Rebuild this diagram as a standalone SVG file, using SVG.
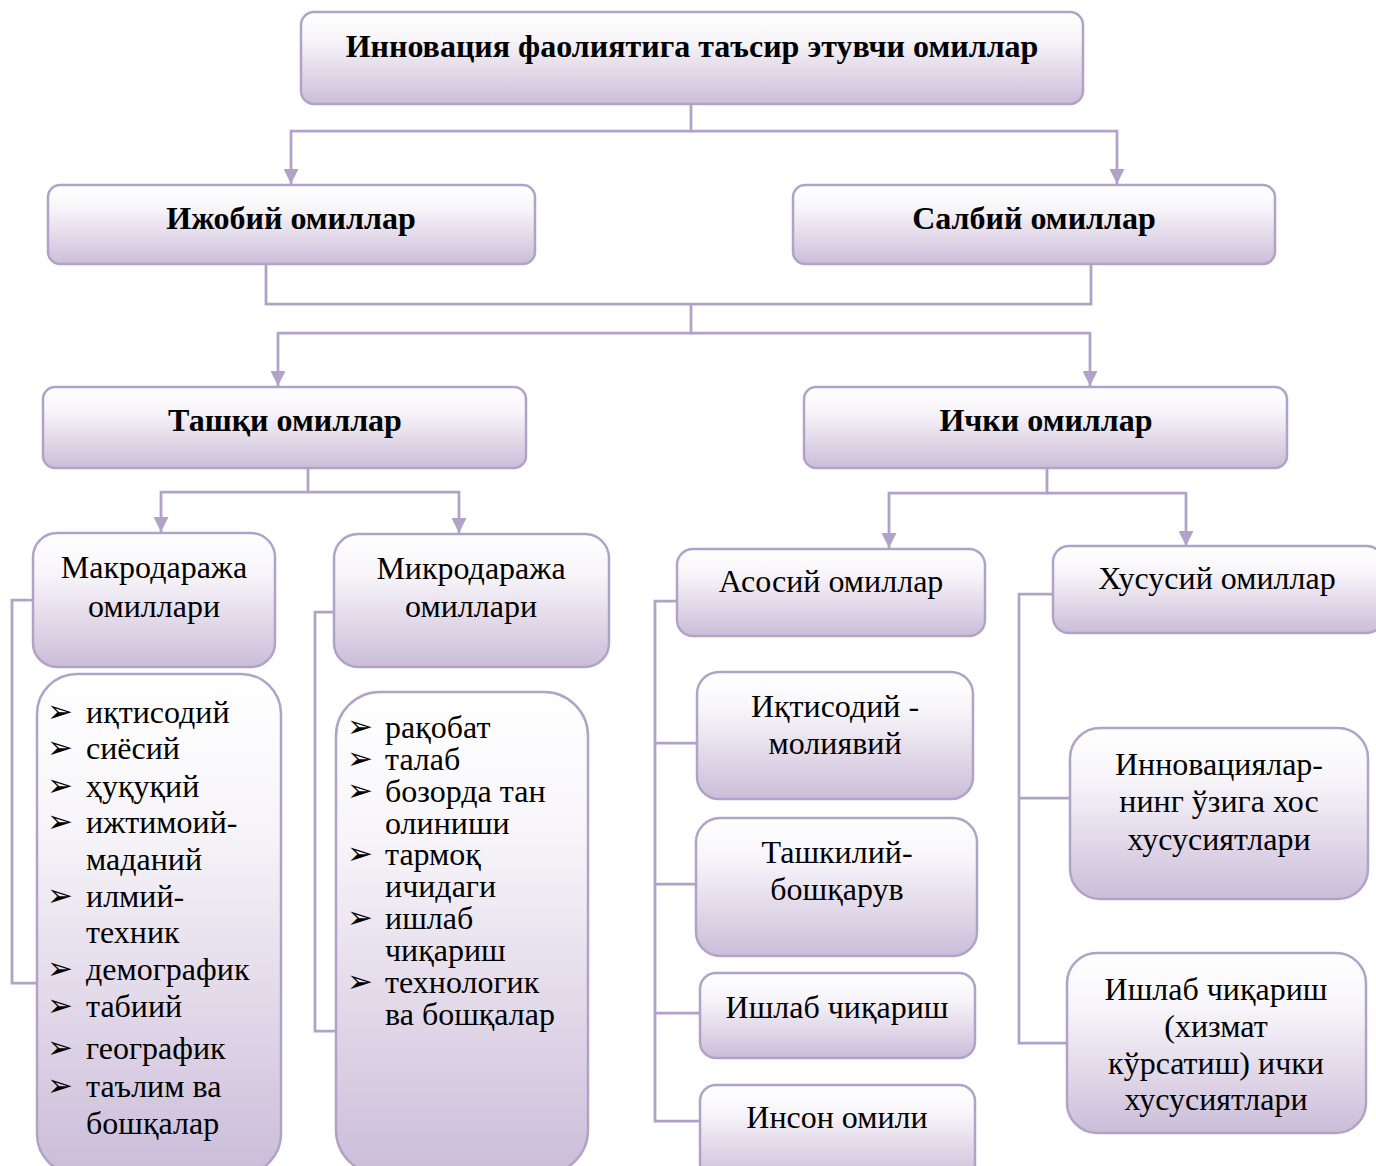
<svg xmlns="http://www.w3.org/2000/svg" width="1376" height="1166" viewBox="0 0 1376 1166">
<defs>
<linearGradient id="g" x1="0" y1="0" x2="0" y2="1">
<stop offset="0" stop-color="#ffffff"/>
<stop offset="0.3" stop-color="#f7f5f9"/>
<stop offset="0.65" stop-color="#e2d9e9"/>
<stop offset="1" stop-color="#cbbdd9"/>
</linearGradient>
<marker id="ar" markerUnits="userSpaceOnUse" markerWidth="15" markerHeight="15" viewBox="0 0 10 10" refX="10" refY="5" orient="auto">
<path d="M0,0 L10,5 L0,10 z" fill="#b3a2c7"/>
</marker>
<style>
.b{fill:url(#g);stroke:#b3a2c7;stroke-width:2.5}
.c{fill:none;stroke:#b3a2c7;stroke-width:2.75}
.h{font-family:"Liberation Serif","Times New Roman",serif;font-weight:bold;font-size:32px;fill:#000;text-anchor:middle}
.t{font-family:"Liberation Serif","Times New Roman",serif;font-size:32px;fill:#000;text-anchor:middle}
.l{font-family:"Liberation Serif","Times New Roman",serif;font-size:32px;fill:#000}
.k{font-family:"DejaVu Sans",sans-serif;font-size:31px;fill:#000}
</style>
</defs>
<rect width="1376" height="1166" fill="#fff"/>
<g id="connectors">
<path class="c" d="M691,104 V131 H291 V184" marker-end="url(#ar)"/>
<path class="c" d="M691,131 H1117 V184" marker-end="url(#ar)"/>
<path class="c" d="M266,264 V304 H1091 V264"/>
<path class="c" d="M691,304 V333 H278 V386" marker-end="url(#ar)"/>
<path class="c" d="M691,333 H1090 V386" marker-end="url(#ar)"/>
<path class="c" d="M308,468 V492 H161 V532" marker-end="url(#ar)"/>
<path class="c" d="M308,492 H459 V533" marker-end="url(#ar)"/>
<path class="c" d="M1047,468 V493 H889 V548" marker-end="url(#ar)"/>
<path class="c" d="M1047,493 H1186 V546" marker-end="url(#ar)"/>
<path class="c" d="M33,600 H12 V983 H37"/>
<path class="c" d="M334,612 H315 V1031 H336"/>
<path class="c" d="M678,601 H655 V1121 H701"/>
<path class="c" d="M655,743 H697"/>
<path class="c" d="M655,884 H696"/>
<path class="c" d="M655,1013 H701"/>
<path class="c" d="M1054,594 H1019 V1043 H1068"/>
<path class="c" d="M1019,798 H1071"/>
</g>
<g id="n-root">
<rect class="b" x="301" y="12" width="782" height="92" rx="13"/>
<text class="h" x="692" y="57">Инновация фаолиятига таъсир этувчи омиллар</text>
</g>
<g id="n-ijobiy">
<rect class="b" x="48" y="185" width="487" height="79" rx="12"/>
<text class="h" x="291" y="229">Ижобий омиллар</text>
</g>
<g id="n-salbiy">
<rect class="b" x="793" y="185" width="482" height="79" rx="12"/>
<text class="h" x="1034" y="229">Салбий омиллар</text>
</g>
<g id="n-tashqi">
<rect class="b" x="43" y="387" width="483" height="81" rx="12"/>
<text class="h" x="285" y="431">Ташқи омиллар</text>
</g>
<g id="n-ichki">
<rect class="b" x="804" y="387" width="483" height="81" rx="12"/>
<text class="h" x="1046" y="431">Ички омиллар</text>
</g>
<g id="n-makro">
<rect class="b" x="33" y="533" width="242" height="134" rx="24"/>
<text class="t" x="154" y="578">Макродаража</text>
<text class="t" x="154" y="617">омиллари</text>
</g>
<g id="n-mikro">
<rect class="b" x="334" y="534" width="275" height="133" rx="24"/>
<text class="t" x="471" y="579">Микродаража</text>
<text class="t" x="471" y="617">омиллари</text>
</g>
<g id="n-makro-list">
<rect class="b" x="37" y="674" width="244" height="500" rx="40"/>
<text class="k" x="47" y="722">➢</text><text class="l" x="86" y="723">иқтисодий</text>
<text class="k" x="47" y="758">➢</text><text class="l" x="86" y="759">сиёсий</text>
<text class="k" x="47" y="796">➢</text><text class="l" x="86" y="797">ҳуқуқий</text>
<text class="k" x="47" y="832">➢</text><text class="l" x="86" y="833">ижтимоий-</text>
<text class="l" x="86" y="870">маданий</text>
<text class="k" x="47" y="906">➢</text><text class="l" x="86" y="907">илмий-</text>
<text class="l" x="86" y="943">техник</text>
<text class="k" x="47" y="979">➢</text><text class="l" x="86" y="980">демографик</text>
<text class="k" x="47" y="1016">➢</text><text class="l" x="86" y="1017">табиий</text>
<text class="k" x="47" y="1058">➢</text><text class="l" x="86" y="1059">географик</text>
<text class="k" x="47" y="1096">➢</text><text class="l" x="86" y="1097">таълим ва</text>
<text class="l" x="86" y="1134">бошқалар</text>
</g>
<g id="n-mikro-list">
<rect class="b" x="336" y="692" width="252" height="482" rx="44"/>
<text class="k" x="347" y="737">➢</text><text class="l" x="385" y="738">рақобат</text>
<text class="k" x="347" y="769">➢</text><text class="l" x="385" y="770">талаб</text>
<text class="k" x="347" y="801">➢</text><text class="l" x="385" y="802">бозорда тан</text>
<text class="l" x="385" y="834">олиниши</text>
<text class="k" x="347" y="864">➢</text><text class="l" x="385" y="865">тармоқ</text>
<text class="l" x="385" y="897">ичидаги</text>
<text class="k" x="347" y="928">➢</text><text class="l" x="385" y="929">ишлаб</text>
<text class="l" x="385" y="961">чиқариш</text>
<text class="k" x="347" y="992">➢</text><text class="l" x="385" y="993">технологик</text>
<text class="l" x="385" y="1025">ва бошқалар</text>
</g>
<g id="n-asosiy">
<rect class="b" x="677" y="549" width="308" height="87" rx="16"/>
<text class="t" x="831" y="592">Асосий омиллар</text>
</g>
<g id="n-xususiy">
<rect class="b" x="1053" y="546" width="330" height="87" rx="16"/>
<text class="t" x="1217" y="589">Хусусий омиллар</text>
</g>
<g id="n-iqtisodiy">
<rect class="b" x="697" y="672" width="276" height="127" rx="22"/>
<text class="t" x="835" y="717">Иқтисодий -</text>
<text class="t" x="835" y="754">молиявий</text>
</g>
<g id="n-tashkiliy">
<rect class="b" x="696" y="818" width="281" height="138" rx="24"/>
<text class="t" x="837" y="863">Ташкилий-</text>
<text class="t" x="837" y="900">бошқарув</text>
</g>
<g id="n-ishlab">
<rect class="b" x="700" y="973" width="275" height="85" rx="16"/>
<text class="t" x="837" y="1018">Ишлаб чиқариш</text>
</g>
<g id="n-inson">
<rect class="b" x="700" y="1085" width="275" height="95" rx="16"/>
<text class="t" x="837" y="1128">Инсон омили</text>
</g>
<g id="n-innovatsiya">
<rect class="b" x="1070" y="728" width="298" height="171" rx="30"/>
<text class="t" x="1219" y="775">Инновациялар-</text>
<text class="t" x="1219" y="812">нинг ўзига хос</text>
<text class="t" x="1219" y="850">хусусиятлари</text>
</g>
<g id="n-ichki-xus">
<rect class="b" x="1067" y="953" width="299" height="180" rx="30"/>
<text class="t" x="1216" y="1000">Ишлаб чиқариш</text>
<text class="t" x="1216" y="1037">(хизмат</text>
<text class="t" x="1216" y="1074">кўрсатиш) ички</text>
<text class="t" x="1216" y="1110">хусусиятлари</text>
</g>
</svg>
